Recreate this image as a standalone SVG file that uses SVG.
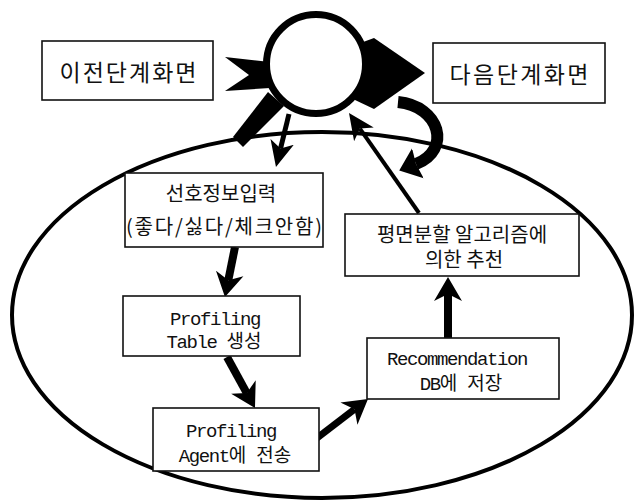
<svg xmlns="http://www.w3.org/2000/svg" width="637" height="500" viewBox="0 0 637 500">
<defs>
<style>
.box{fill:#fff;stroke:#111;stroke-width:1.6}
.k{font-family:"Noto Sans CJK KR","Noto Sans",sans-serif;fill:#111;letter-spacing:0}
.m{font-family:"Liberation Mono","Noto Sans CJK KR",monospace;font-size:19px;letter-spacing:-1.4px;fill:#111}
.ln{fill:none;stroke:#000;stroke-linecap:butt}
</style>
<marker id="ahThin" markerUnits="userSpaceOnUse" viewBox="0 -13 27 26" markerWidth="27" markerHeight="26" refX="7" refY="0" orient="auto"><path d="M0,-12 L26,0 L0,12 L7,0 Z" fill="#000"/></marker>
<marker id="ahThick" markerUnits="userSpaceOnUse" viewBox="0 -15 25 30" markerWidth="25" markerHeight="30" refX="7" refY="0" orient="auto"><path d="M0,-14 L24,0 L0,14 L7,0 Z" fill="#000"/></marker>
<marker id="ahCurve" markerUnits="userSpaceOnUse" viewBox="0 -17 21 34" markerWidth="21" markerHeight="34" refX="2" refY="0" orient="auto"><path d="M0,-16 L20,0 L0,16 L2,0 Z" fill="#000"/></marker>
</defs>
<rect width="637" height="500" fill="#fff"/>

<g id="cycle">
<ellipse cx="322" cy="315" rx="310" ry="183" fill="none" stroke="#000" stroke-width="4"/>
</g>

<g id="connectors">
<polygon points="225,57 270,62 270,88 225,91 249,75" fill="#000"/>
<polygon points="374,38 425,73 374,109 355,100 355,45" fill="#000"/>
<polygon points="233,137 243,147 284,106 268,92" fill="#000"/>
<path class="ln" d="M289 114 L280.5 148.6" stroke-width="5" marker-end="url(#ahThin)"/>
<path class="ln" d="M419 213 L359.9 128.6" stroke-width="4" marker-end="url(#ahThin)"/>
<path class="ln" d="M398 102 C440 106 452 150 416 164" stroke-width="12" marker-end="url(#ahCurve)"/>
<path class="ln" d="M235 247 L228.3 280.3" stroke-width="8" marker-end="url(#ahThick)"/>
<path class="ln" d="M227 357 L246.8 393.1" stroke-width="8" marker-end="url(#ahThick)"/>
<path class="ln" d="M317 438 L354.5 409.3" stroke-width="7" marker-end="url(#ahThick)"/>
<path class="ln" d="M448 338 L448 294" stroke-width="8" marker-end="url(#ahThick)"/>
</g>

<g id="hub">
<circle cx="316" cy="64" r="49.5" fill="#fff" stroke="#000" stroke-width="7"/>
</g>

<g id="prev">
<rect class="box" x="42" y="41" width="171" height="59"/>
<text class="k" x="128" y="81" font-size="23" text-anchor="middle" textLength="137">이전단계화면</text>
</g>

<g id="next">
<rect class="box" x="433" y="43" width="172" height="60"/>
<text class="k" x="519" y="83" font-size="23" text-anchor="middle" textLength="139">다음단계화면</text>
</g>

<g id="input">
<rect class="box" x="125" y="173" width="198" height="74"/>
<text class="k" x="221" y="201" font-size="20" text-anchor="middle">선호정보입력</text>
<text class="k" x="224" y="234" font-size="20" text-anchor="middle" textLength="196" lengthAdjust="spacing">(좋다/싫다/체크안함)</text>
</g>

<g id="table">
<rect class="box" x="123" y="296" width="177" height="60"/>
<text class="m" x="215" y="325" text-anchor="middle">Profiling</text>
<text class="m" x="214" y="348" text-anchor="middle">Table <tspan class="k" font-size="19">생성</tspan></text>
</g>

<g id="agent">
<rect class="box" x="153" y="408" width="166" height="63"/>
<text class="m" x="231" y="437" text-anchor="middle">Profiling</text>
<text class="m" x="235" y="462" text-anchor="middle">Agent<tspan class="k" font-size="19">에</tspan> <tspan class="k" font-size="19">전송</tspan></text>
</g>

<g id="store">
<rect class="box" x="367" y="338" width="192" height="61"/>
<text class="m" x="457" y="365" text-anchor="middle">Recommendation</text>
<text class="m" x="461" y="390" text-anchor="middle">DB<tspan class="k" font-size="19">에</tspan> <tspan class="k" font-size="19">저장</tspan></text>
</g>

<g id="recommend">
<rect class="box" x="345" y="214" width="234" height="62"/>
<text class="k" x="462" y="242" font-size="20" text-anchor="middle">평면분할 알고리즘에</text>
<text class="k" x="464" y="267" font-size="20" text-anchor="middle">의한 추천</text>
</g>
</svg>
